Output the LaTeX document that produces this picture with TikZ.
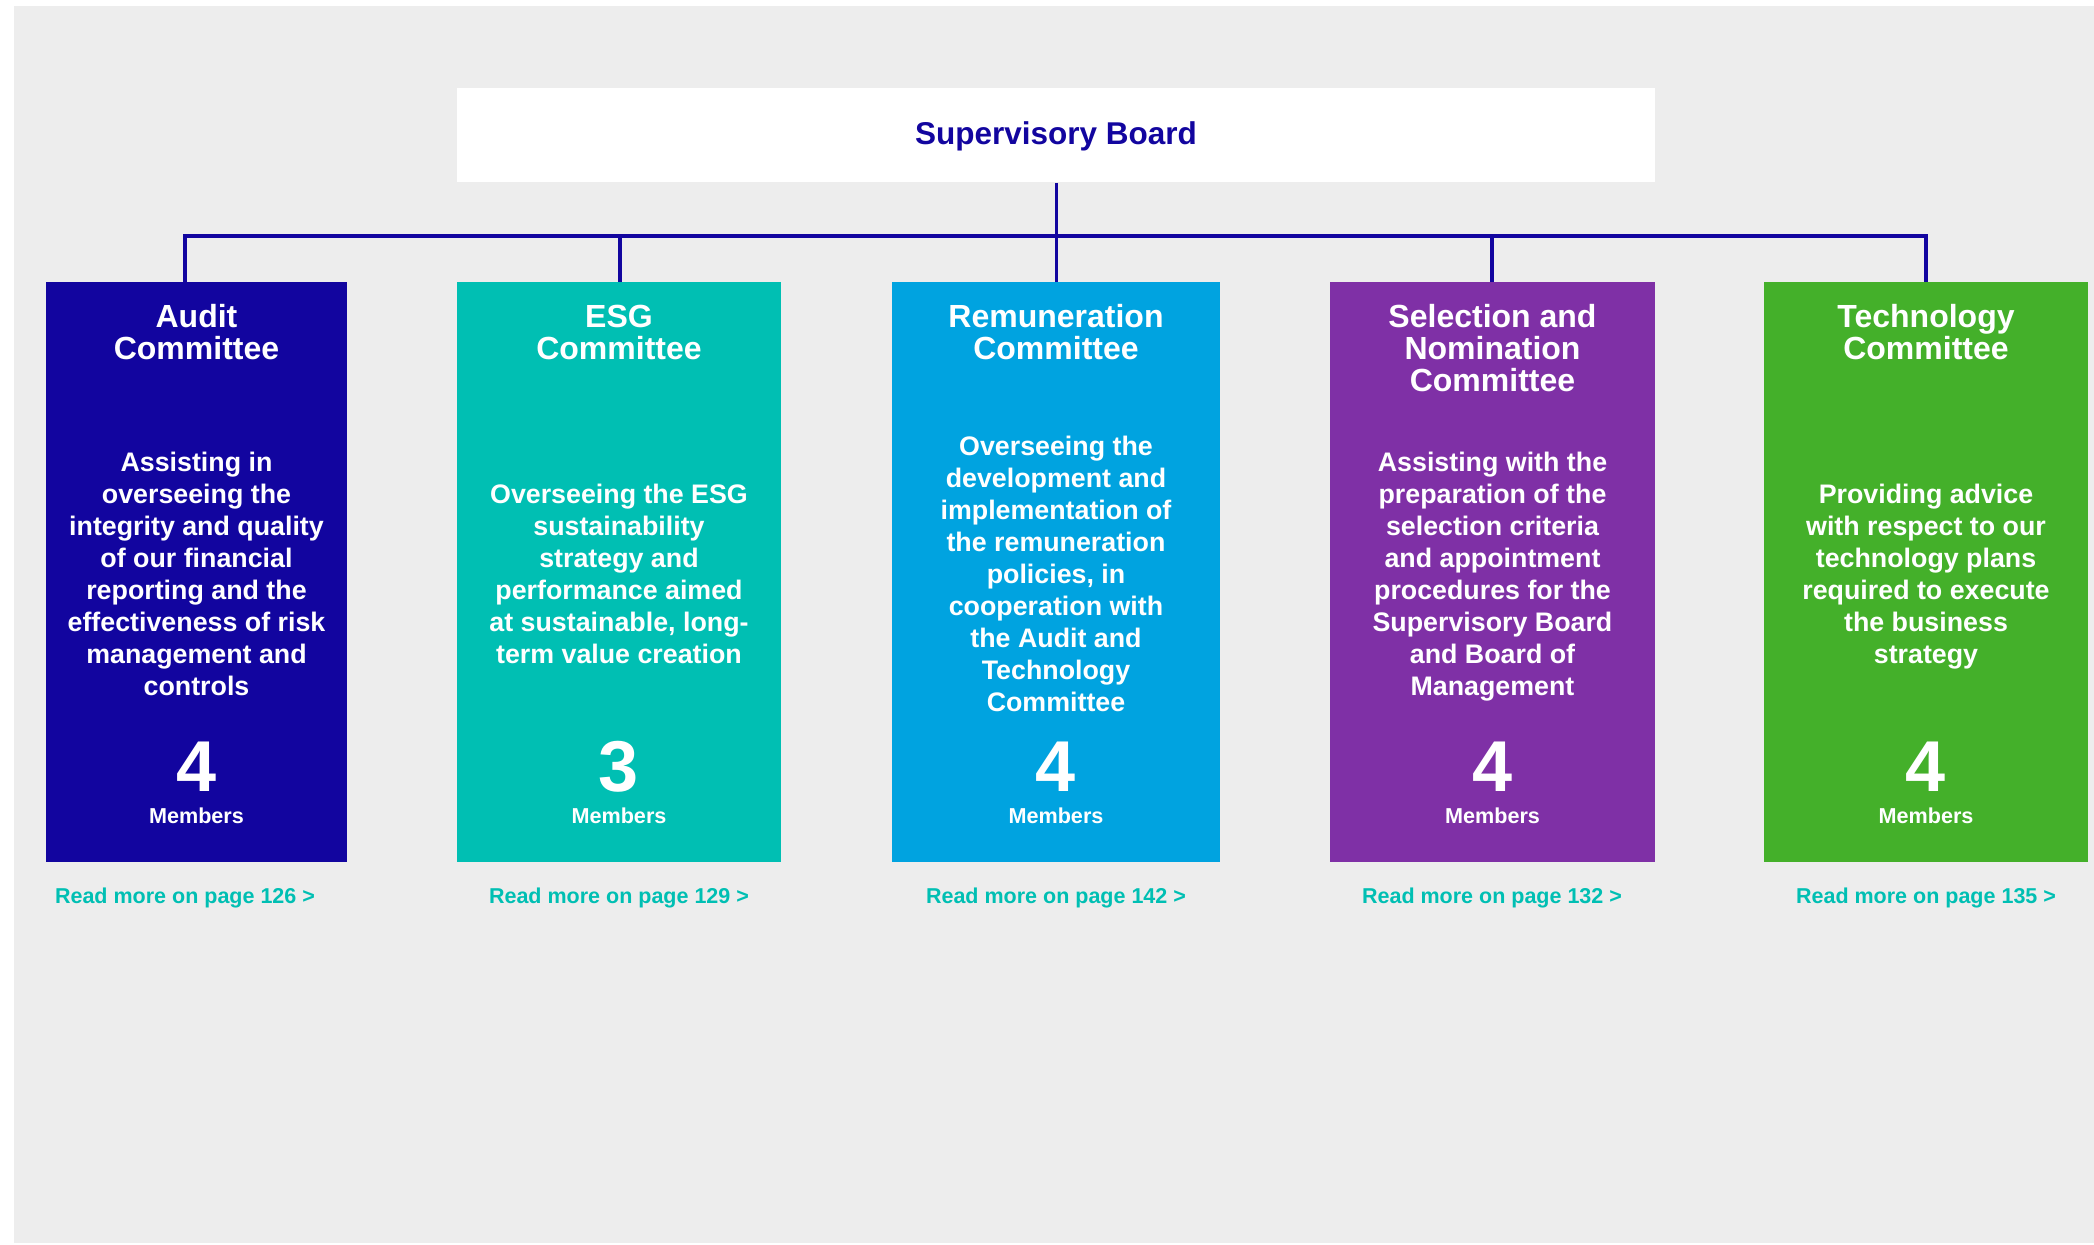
\documentclass[tikz,border=0pt]{standalone}
\usepackage{fontspec}
\setmainfont{Liberation Sans}
\definecolor{bggray}{RGB}{237,237,237}
\definecolor{navy}{RGB}{18,5,159}
\definecolor{esgteal}{RGB}{0,191,179}
\definecolor{remblue}{RGB}{0,163,224}
\definecolor{selpurple}{RGB}{127,48,166}
\definecolor{techgreen}{RGB}{68,176,42}
\definecolor{linkteal}{RGB}{0,191,179}
\begin{document}
\begin{tikzpicture}[x=0.5pt,y=-0.5pt,
  cbox/.style={rectangle, draw=none, inner sep=0, anchor=north west, minimum height=290pt},
  boardbox/.style={rectangle, fill=white, draw=none, inner sep=0, anchor=north west, minimum width=599pt, minimum height=47pt},
  boardtext/.style={anchor=base, inner sep=0, text=navy, font=\bfseries\fontsize{15.75}{16}\selectfont},
  ctitle/.style={anchor=north, align=center, inner sep=0, text=white, font=\bfseries\fontsize{16}{16}\selectfont},
  cbody/.style={align=center, inner sep=0, text=white, font=\bfseries\fontsize{13.4}{16}\selectfont},
  cnum/.style={anchor=base, inner sep=0, text=white, font=\bfseries\fontsize{36}{36}\selectfont},
  cmem/.style={anchor=base, inner sep=0, text=white, font=\bfseries\fontsize{10.8}{13}\selectfont},
  cmore/.style={anchor=base, inner sep=0, text=linkteal, font=\bfseries\fontsize{10.75}{13}\selectfont},
  conn/.style={draw=navy, line width=1.7pt, line join=miter}
]
\useasboundingbox (0,0) rectangle (2094,1244);
\fill[bggray] (14,6) rectangle (2094,1243);

% Supervisory board
\node[boardbox] (board) at (457,88) {};
\node[boardtext] (boardt) at (1056,144) {Supervisory Board};

% committee boxes
\node[cbox, fill=navy, minimum width=150.5pt] (a1) at (46,282) {};
\node[cbox, fill=esgteal, minimum width=162pt] (a2) at (457,282) {};
\node[cbox, fill=remblue, minimum width=164pt] (a3) at (892,282) {};
\node[cbox, fill=selpurple, minimum width=162.5pt] (a4) at (1330,282) {};
\node[cbox, fill=techgreen, minimum width=162pt] (a5) at (1764,282) {};

% connectors
\coordinate (j1) at (185,236);
\coordinate (j2) at (620,236);
\coordinate (j3) at (1056,236);
\coordinate (j4) at (1492,236);
\coordinate (j5) at (1926,236);
\draw[conn] (j1 |- a1.north) -- (j1) -- (j5) -- (j5 |- a5.north);
\draw[conn] (board.south) -- (board.south |- a3.north);
\draw[conn] (j2) -- (j2 |- a2.north);
\draw[conn] (j4) -- (j4 |- a4.north);

% titles
\node[ctitle] (t1) at (196.5,304) {Audit\\Committee};
\node[ctitle] (t2) at (619,305) {ESG\\Committee};
\node[ctitle] (t3) at (1056,304) {Remuneration\\Committee};
\node[ctitle] (t4) at (1492.5,304) {Selection and\\Nomination\\Committee};
\node[ctitle] (t5) at (1926,304) {Technology\\Committee};

% bodies
\node[cbody] (b1) at (196.5,574) {Assisting in\\overseeing the\\integrity and quality\\of our financial\\reporting and the\\effectiveness of risk\\management and\\controls};
\node[cbody] (b2) at (619,574) {Overseeing the ESG\\sustainability\\strategy and\\performance aimed\\at sustainable, long-\\term value creation};
\node[cbody] (b3) at (1056,574) {Overseeing the\\development and\\implementation of\\the remuneration\\policies, in\\cooperation with\\the Audit and\\Technology\\Committee};
\node[cbody] (b4) at (1492.5,577) {Assisting with the\\preparation of the\\selection criteria\\and appointment\\procedures for the\\Supervisory Board\\and Board of\\Management};
\node[cbody] (b5) at (1926,577) {Providing advice\\with respect to our\\technology plans\\required to execute\\the business\\strategy};

% numbers
\node[cnum] (n1) at (196.5,791) {4};
\node[cnum] (n2) at (619,791) {3};
\node[cnum] (n3) at (1056,791) {4};
\node[cnum] (n4) at (1492.5,791) {4};
\node[cnum] (n5) at (1926,791) {4};

\node[cmem] (m1) at (196.5,823) {Members};
\node[cmem] (m2) at (619,823) {Members};
\node[cmem] (m3) at (1056,823) {Members};
\node[cmem] (m4) at (1492.5,823) {Members};
\node[cmem] (m5) at (1926,823) {Members};

% read more
\node[cmore] (r1) at (185,903) {Read more on page 126 >};
\node[cmore] (r2) at (619,903) {Read more on page 129 >};
\node[cmore] (r3) at (1056,903) {Read more on page 142 >};
\node[cmore] (r4) at (1492,903) {Read more on page 132 >};
\node[cmore] (r5) at (1926,903) {Read more on page 135 >};
\end{tikzpicture}
\end{document}
